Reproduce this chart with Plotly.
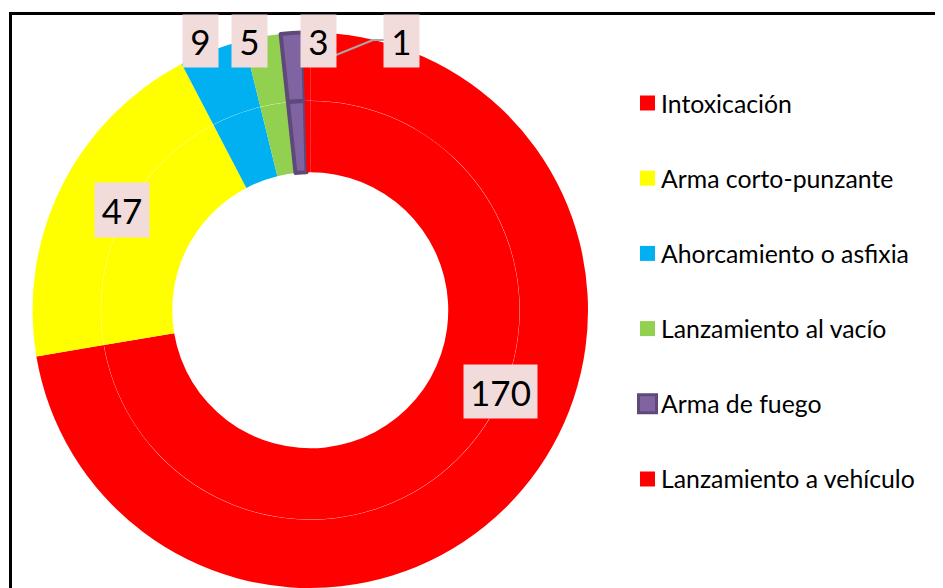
import plotly.graph_objects as go

categories = ["Intoxicación", "Arma corto-punzante", "Ahorcamiento o asfixia",
              "Lanzamiento al vacío", "Arma de fuego", "Lanzamiento a vehículo"]
values = [170, 47, 9, 5, 3, 1]
colors = ["#ff0000", "#ffff00", "#00b0f0", "#92d050", "#8064a2", "#ff0000"]
line_colors = ["#ff0000", "#ffff00", "#00b0f0", "#92d050", "#5f497a", "#ff0000"]
line_widths = [0, 0, 0, 0, 4, 0]

W, H = 943, 588
OFF = 8  # page body margin offset
cx, cy = 310.25, 310.25
R_out, R_mid, R_in = 277.75, 209.5, 138.0


def px(x):
    return (x - OFF) / W


def py(y):
    return 1 - (y - OFF) / H


def dom(r):
    return dict(x=[px(cx - r), px(cx + r)], y=[py(cy + r), py(cy - r)])


fig = go.Figure()
# outer ring
fig.add_trace(go.Pie(
    values=values, labels=categories, sort=False, direction="clockwise",
    rotation=0, hole=R_mid / R_out, domain=dom(R_out), textinfo="none",
    hoverinfo="label+value",
    marker=dict(colors=colors, line=dict(color=line_colors, width=line_widths)),
    showlegend=False))
# inner ring
R_mid_in = R_mid - 0.25
fig.add_trace(go.Pie(
    values=values, labels=categories, sort=False, direction="clockwise",
    rotation=0, hole=R_in / R_mid_in, domain=dom(R_mid_in), textinfo="none",
    hoverinfo="label+value",
    marker=dict(colors=colors, line=dict(color=line_colors, width=line_widths)),
    showlegend=False))

# data labels (pixel centres, widths)
label_pos = [(500, 392, 73, 53), (122, 210, 54, 54), (200, 41, 35, 52),
             (250, 41, 35, 52), (318, 41, 35, 52), (401, 41, 35, 52)]
annotations = []
for v, (x, y, w, h) in zip(values, label_pos):
    annotations.append(dict(
        x=px(x), y=py(y), xref="paper", yref="paper", text=str(v),
        showarrow=False, bgcolor="#f2dcdb", width=w, height=h,
        font=dict(family="Lato", size=35, color="#000000"),
        xanchor="center", yanchor="middle", borderpad=0))

shapes = []
# leader line for the smallest slice
shapes.append(dict(type="path", xref="paper", yref="paper",
                   path=f"M {px(336)},{py(55)} L {px(373)},{py(40)} L {px(384)},{py(40)}",
                   line=dict(color="#a6a6a6", width=2)))
# chart border
shapes.append(dict(type="rect", xref="paper", yref="paper",
                   x0=px(10.5), x1=1.2, y0=-0.2, y1=py(13.5),
                   line=dict(color="#000000", width=3), fillcolor="rgba(0,0,0,0)"))

# legend
leg_y0, leg_dy = 103, 75.2
for i, (name, c, lc) in enumerate(zip(categories, colors, line_colors)):
    yc = leg_y0 + i * leg_dy
    if name == "Arma de fuego":
        shapes.append(dict(type="rect", xref="paper", yref="paper",
                           x0=px(638.5), x1=px(656.5), y0=py(yc + 9), y1=py(yc - 9),
                           fillcolor=c, line=dict(color=lc, width=3)))
    else:
        shapes.append(dict(type="rect", xref="paper", yref="paper",
                           x0=px(640), x1=px(655), y0=py(yc + 7.5), y1=py(yc - 7.5),
                           fillcolor=c, line=dict(width=0)))
    annotations.append(dict(
        x=px(659), y=py(yc), xref="paper", yref="paper", text=name,
        showarrow=False, xanchor="left", yanchor="middle",
        font=dict(family="Lato", size=24.8, color="#000000")))

fig.update_layout(
    width=W, height=H, margin=dict(l=0, r=0, t=0, b=0),
    paper_bgcolor="#ffffff", plot_bgcolor="#ffffff",
    annotations=annotations, shapes=shapes, showlegend=False)

fig.write_html("out.html")
